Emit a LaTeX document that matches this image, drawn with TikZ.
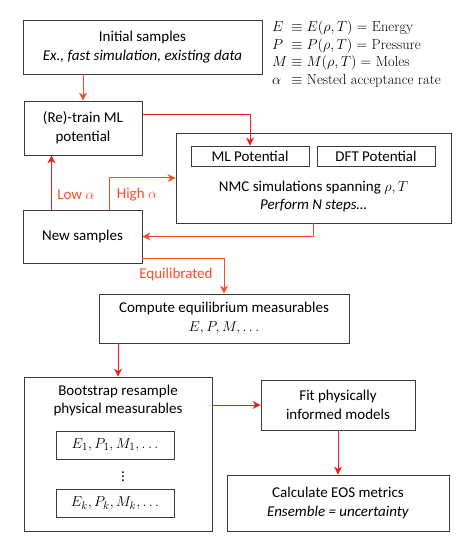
\documentclass[tikz,border=0pt]{standalone}
\usepackage{fontspec}
\setmainfont{Carlito}
\newfontfamily\legfont{Latin Modern Roman}
\usetikzlibrary{arrows.meta,calc}
\definecolor{arrred}{HTML}{F21E1E}
\definecolor{arrorg}{HTML}{FF4A2A}
\definecolor{boxline}{HTML}{3A3A3A}
\tikzset{
  box/.style={draw=boxline,line width=0.9pt,rectangle,align=center,inner sep=0pt,
    font=\fontsize{15}{19}\selectfont},
  plain/.style={align=center,inner sep=0pt,font=\fontsize{15}{18}\selectfont},
  redarr/.style={draw=arrred,line width=1pt,-{Stealth[length=8pt,width=8pt]}},
  orgarr/.style={draw=arrorg,line width=1pt,-{Stealth[length=8pt,width=8pt]}},
  lbl/.style={text=arrorg,inner sep=0pt,font=\fontsize{15}{18}\selectfont},
}
\begin{document}
\begin{tikzpicture}[x=1pt,y=-1pt]
\useasboundingbox (0,0) rectangle (467,553);
% boxes
\node[box,minimum width=239pt,minimum height=54pt] (init) at (142.5,47)
  {Initial samples\\\textit{Ex., fast simulation, existing data}};
\node[box,minimum width=118pt,minimum height=54pt] (retrain) at (83,128)
  {(Re)-train ML\\potential};
\node[box,minimum width=275pt,minimum height=90pt] (nmc) at (313.5,178) {};
\node[box,minimum width=118pt,minimum height=20pt] (ml) at (250,156) {ML Potential};
\node[box,minimum width=118pt,minimum height=20pt] (dft) at (376,156) {DFT Potential};
\node[plain] (nmctext) at (313.5,197)
  {NMC simulations spanning $\rho,T$\\\textit{Perform N steps\ldots}};
\node[box,minimum width=119pt,minimum height=53pt] (new) at (82.5,236.5) {New samples};
\node[box,minimum width=250pt,minimum height=49pt] (comp) at (224,318.5)
  {Compute equilibrium measurables\\$E,P,M,\ldots$};
\node[box,minimum width=188pt,minimum height=154pt] (boot) at (118,454) {};
\node[plain] (boottext) at (118,400.5) {Bootstrap resample\\physical measurables};
\node[box,minimum width=118pt,minimum height=28pt] (e1) at (115,445) {$E_1,P_1,M_1,\ldots$};
\node[plain] (dots) at (123,474) {$\vdots$};
\node[box,minimum width=118pt,minimum height=28pt] (ek) at (115,503) {$E_k,P_k,M_k,\ldots$};
\node[box,minimum width=154pt,minimum height=50pt] (fit) at (338,405)
  {Fit physically\\informed models};
\node[box,minimum width=222pt,minimum height=56pt] (calc) at (338,503)
  {Calculate EOS metrics\\\textit{Ensemble = uncertainty}};
% legend
\node[anchor=north west,inner sep=0pt,font=\legfont\fontsize{14.5}{17.7}\selectfont] (legend) at (272,19)
  {\begin{tabular}{@{}l@{\;}l@{}}
   $E$ & $\equiv E(\rho,T) = $ Energy\\
   $P$ & $\equiv P(\rho,T) = $ Pressure\\
   $M$ & $\equiv M(\rho,T) = $ Moles\\
   $\alpha$ & $\equiv$ Nested acceptance rate
   \end{tabular}};
% coordinates
\coordinate (rtout) at ($(retrain.north east)!0.25!(retrain.south east)$);
\coordinate (eqout) at ($(new.north east)!0.9!(new.south east)$);
\coordinate (lowx) at (51.5,0);
\coordinate (highx) at (109,0);
% arrows
\draw[orgarr] (init.south -| retrain) -- (retrain.north);
\draw[redarr] (rtout) -| (ml.north);
\draw[redarr] (new.north -| lowx) -- (retrain.south -| lowx);
\draw[orgarr] (new.north -| highx) |- (nmc.west);
\draw[orgarr] (nmc.south) |- (new.east);
\draw[orgarr] (eqout) -| (comp.north);
\draw[redarr] (comp.south -| boot) -- (boot.north);
\draw[redarr] (boot.east |- fit) -- (fit.west);
\draw[redarr] (fit.south) -- (calc.north);
% labels
\node[lbl] (lowlbl) at (76,195) {Low $\alpha$};
\node[lbl] (highlbl) at (137,195) {High $\alpha$};
\node[lbl] (eqlbl) at (176,274) {Equilibrated};
\end{tikzpicture}
\end{document}
